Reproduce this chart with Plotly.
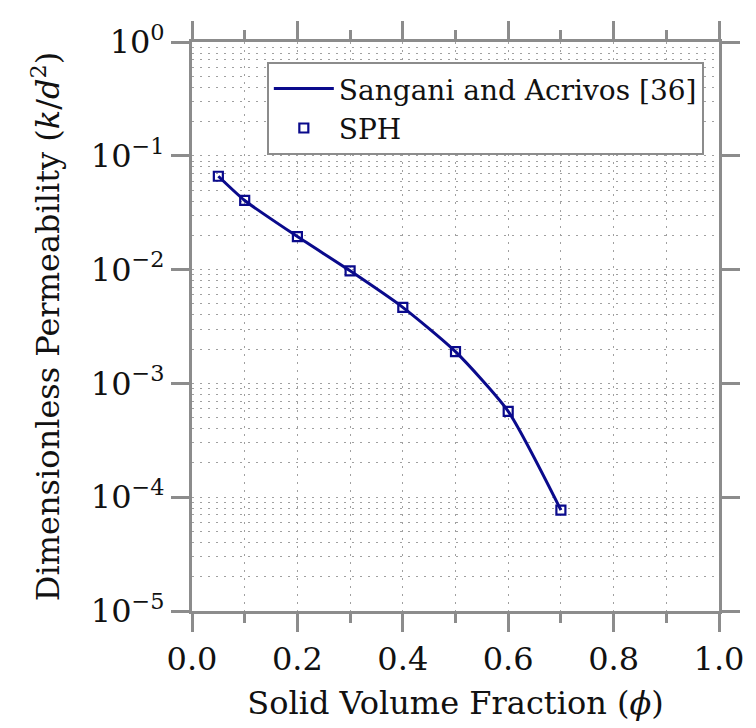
import plotly.graph_objects as go

# Data
sa_phi = [0.05, 0.1, 0.2, 0.3, 0.4, 0.5, 0.6, 0.7]
sa_k = [0.0661, 0.0405, 0.0195, 0.00975, 0.00466, 0.00190, 0.000568, 7.71e-5]
sph_phi = [0.05, 0.1, 0.2, 0.3, 0.4, 0.5, 0.6, 0.7]
sph_k = [0.0661, 0.0405, 0.0195, 0.00975, 0.00466, 0.00190, 0.000568, 7.71e-5]

x_ticks = [0.0, 0.2, 0.4, 0.6, 0.8, 1.0]
x_ticktext = ["0.0", "0.2", "0.4", "0.6", "0.8", "1.0"]
y_ticks = [1, 1e-1, 1e-2, 1e-3, 1e-4, 1e-5]
y_ticktext = ["10<sup>0</sup>", "10<sup>−1</sup>", "10<sup>−2</sup>", "10<sup>−3</sup>",
              "10<sup>−4</sup>", "10<sup>−5</sup>"]

NAVY = "#0a0a8c"
GRAY = "#8c8c8c"
GRID = "#a0a0a0"
FONT = "DejaVu Serif"

fig = go.Figure()
fig.add_trace(go.Scatter(x=sa_phi, y=sa_k, mode="lines", name="Sangani and Acrivos [36]",
                         line=dict(color=NAVY, width=3, shape="spline", smoothing=0.6)))
fig.add_trace(go.Scatter(x=sph_phi, y=sph_k, mode="markers", name="SPH",
                         marker=dict(symbol="square-open", size=9, color=NAVY,
                                     line=dict(width=2.2, color=NAVY))))

axis_common = dict(
    showline=True, linecolor=GRAY, linewidth=3, mirror="ticks",
    ticks="outside", ticklen=18, tickwidth=3, tickcolor=GRAY,
    showgrid=True, gridcolor=GRID, gridwidth=1.3, griddash="2px,6px",
    zeroline=False,
    tickfont=dict(family=FONT, size=32, color="#111"),
)

fig.update_xaxes(
    range=[0, 1], tickvals=x_ticks, ticktext=x_ticktext,
    minor=dict(dtick=0.1, ticks="outside", ticklen=9, tickwidth=3, tickcolor=GRAY,
               showgrid=True, gridcolor=GRID, gridwidth=1.3, griddash="2px,6px"),
    title=dict(text="Solid Volume Fraction (<i>ϕ</i>)", font=dict(family=FONT, size=32, color="#111"),
               standoff=15),
    **axis_common,
)
fig.update_yaxes(
    type="log", range=[-5, 0], tickvals=y_ticks, ticktext=y_ticktext,
    minor=dict(dtick="D1", ticks="", showgrid=True, gridcolor=GRID, gridwidth=1.3,
               griddash="2px,6px"),
    title=dict(text="Dimensionless Permeability (<i>k</i>/<i>d</i><sup>2</sup>)",
               font=dict(family=FONT, size=32, color="#111"), standoff=22),
    **axis_common,
)

fig.update_layout(
    width=756, height=728,
    margin=dict(l=192, r=28, t=42, b=115),
    paper_bgcolor="white", plot_bgcolor="white",
    showlegend=True,
    legend=dict(x=0.142, y=0.965, xanchor="left", yanchor="top",
                bgcolor="white", bordercolor=GRAY, borderwidth=2,
                font=dict(family=FONT, size=28, color="#111"),
                itemwidth=60, tracegroupgap=0),
)

fig.write_html("out.html")
